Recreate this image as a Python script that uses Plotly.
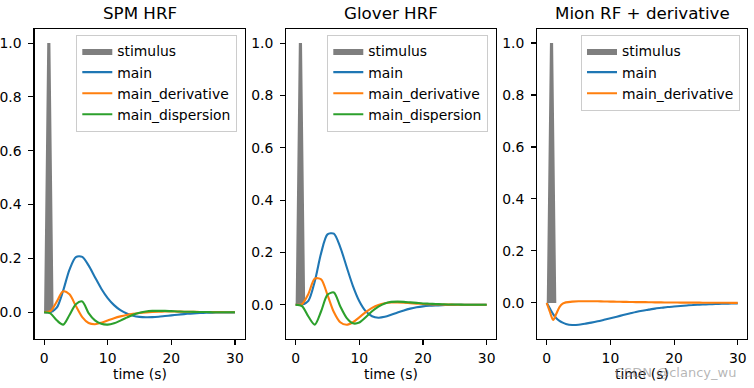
import plotly.graph_objects as go

# ---------------- data ----------------
time_s = list(range(0, 31))

stim_times = [0.0, 0.5, 1.0, 1.5, 30.0]
stim_values = [0.0, 1.0, 1.0, 0.0, 0.0]

spm_main = [0.0, 0.0002, 0.0169, 0.0802, 0.1586, 0.2050, 0.2056, 0.1741, 0.1302, 0.0875,
            0.0526, 0.0264, 0.0078, -0.0048, -0.0128, -0.0171, -0.0187, -0.0183, -0.0166, -0.0142,
            -0.0117, -0.0091, -0.0068, -0.0050, -0.0035, -0.0024, -0.0016, -0.0011, -0.0007, -0.0004,
            -0.0003]
spm_derivative = [0.0, 0.0037, 0.0396, 0.0777, 0.0666, 0.0230, -0.0180, -0.0400, -0.0445, -0.0391,
                  -0.0305, -0.0222, -0.0154, -0.0101, -0.0060, -0.0028, -0.0005, 0.0011, 0.0021, 0.0026,
                  0.0026, 0.0024, 0.0021, 0.0017, 0.0013, 0.0009, 0.0007, 0.0005, 0.0003, 0.0002,
                  0.0001]
spm_dispersion = [0.0, -0.004, -0.030, -0.046, -0.010, 0.030, 0.040, -0.003, -0.030, -0.043,
                  -0.046, -0.041, -0.031, -0.020, -0.009, -0.002, 0.003, 0.005, 0.005, 0.005,
                  0.004, 0.003, 0.002, 0.002, 0.001, 0.001, 0.0005, 0.0, 0.0, 0.0,
                  0.0]

glover_main = [0.0, 0.0001, 0.0150, 0.0892, 0.1974, 0.2690, 0.2717, 0.2204, 0.1453, 0.0716,
               0.0136, -0.0243, -0.0438, -0.0494, -0.0462, -0.0386, -0.0297, -0.0215, -0.0148, -0.0098,
               -0.0062, -0.0038, -0.0023, -0.0013, -0.0007, -0.0004, -0.0002, -0.0001, 0.0, 0.0,
               0.0]
glover_derivative = [0.0, 0.0026, 0.0414, 0.0999, 0.0973, 0.0376, -0.0280, -0.0670, -0.0767, -0.0669,
                     -0.0480, -0.0284, -0.0118, -0.0006, 0.0059, 0.0086, 0.0086, 0.0076, 0.0058, 0.0042,
                     0.0030, 0.0020, 0.0012, 0.0007, 0.0005, 0.0002, 0.0001, 0.0, 0.0, 0.0,
                     0.0]
glover_dispersion = [0.0, -0.005, -0.045, -0.076, -0.025, 0.038, 0.047, -0.006, -0.050, -0.071,
                     -0.068, -0.048, -0.025, -0.007, 0.005, 0.011, 0.012, 0.011, 0.009, 0.007,
                     0.005, 0.004, 0.003, 0.002, 0.001, 0.001, 0.0005, 0.0, 0.0, 0.0,
                     0.0]

mion_time = [0, 0.5, 1, 1.5, 2, 2.5, 3, 4, 5, 6, 7, 8, 9, 10, 11, 12, 13, 14, 15, 16, 17, 18, 19,
             20, 21, 22, 23, 24, 25, 26, 27, 28, 29, 30]
mion_main = [0.0, -0.022, -0.043, -0.059, -0.069, -0.076, -0.081, -0.085, -0.084, -0.080, -0.076,
             -0.071, -0.065, -0.059, -0.053, -0.047, -0.041, -0.035, -0.030, -0.026, -0.022, -0.019,
             -0.016, -0.014, -0.012, -0.010, -0.008, -0.007, -0.006, -0.005, -0.004, -0.003, -0.0025,
             -0.002]
mion_derivative = [0.0, -0.035, -0.066, -0.042, -0.016, -0.003, 0.002, 0.005, 0.006, 0.006, 0.006,
                   0.006, 0.0055, 0.005, 0.0045, 0.004, 0.0035, 0.003, 0.003, 0.0025, 0.002, 0.002,
                   0.0015, 0.0015, 0.001, 0.001, 0.001, 0.0008, 0.0006, 0.0005, 0.0004, 0.0003, 0.0002,
                   0.0001]

panel_titles = ["SPM HRF", "Glover HRF", "Mion RF + derivative"]
series_names = ["main", "main_derivative", "main_dispersion"]
colors = ["#1f77b4", "#ff7f0e", "#2ca02c"]
x_ticks = [0, 10, 20, 30]
y_ticks = [0.0, 0.2, 0.4, 0.6, 0.8, 1.0]

# ---------------- layout geometry (window pixels) ----------------
W, H = 754, 388
x_px = [(34.5, 244.5), (286.1, 496.2), (537.2, 747.3)]
y_top, y_bot = 29, 339
y_ranges = [(-0.0994, 1.0524), (-0.1309, 1.0539), (-0.139, 1.054)]
legend_right_px = [237.3, 488.3, 740.0]
legend_top_px = 34.5

FONT = "DejaVu Sans"
FS = 13.9


def px(xw):
    return xw / W


def py(yw):
    return (H - yw) / H


panels = [
    (time_s, [spm_main, spm_derivative, spm_dispersion]),
    (time_s, [glover_main, glover_derivative, glover_dispersion]),
    (mion_time, [mion_main, mion_derivative]),
]

fig = go.Figure()
for i, (tt, series) in enumerate(panels):
    ax = "" if i == 0 else str(i + 1)
    leg = "legend" if i == 0 else f"legend{i + 1}"
    fig.add_trace(go.Scatter(
        x=stim_times, y=stim_values, fill="toself", mode="lines",
        fillcolor="rgba(0,0,0,0.5)", line=dict(width=0, color="rgba(0,0,0,0.5)"),
        name="stimulus", xaxis="x" + ax, yaxis="y" + ax, legend=leg))
    for j, vals in enumerate(series):
        fig.add_trace(go.Scatter(
            x=tt, y=vals, mode="lines", name=series_names[j],
            line=dict(color=colors[j], width=2.1, shape="spline", smoothing=0.8),
            xaxis="x" + ax, yaxis="y" + ax, legend=leg))

layout = dict(
    template="none",
    width=W, height=H, margin=dict(l=0, r=0, t=0, b=0, autoexpand=False),
    paper_bgcolor="white", plot_bgcolor="white",
    font=dict(family=FONT, size=FS, color="black"),
    showlegend=True, annotations=[],
)
axis_common = dict(showline=True, mirror=True, linecolor="black", linewidth=1.1,
                   ticks="outside", ticklen=5, tickwidth=1.1, tickcolor="black",
                   showgrid=False, zeroline=False, fixedrange=True, automargin=False,
                   tickfont=dict(family=FONT, size=FS, color="black"))
for i in range(3):
    ax = "" if i == 0 else str(i + 1)
    x0, x1 = x_px[i]
    layout["xaxis" + ax] = dict(axis_common, domain=[px(x0), px(x1)], range=[-1.5, 31.5],
                                tickvals=x_ticks, anchor="y" + ax, ticklabelstandoff=1)
    layout["yaxis" + ax] = dict(axis_common, domain=[py(y_bot), py(y_top)],
                                range=list(y_ranges[i]), tickvals=y_ticks, tickformat=".1f",
                                anchor="x" + ax, ticklabelstandoff=4)
    leg = "legend" if i == 0 else f"legend{i + 1}"
    layout[leg] = dict(x=px(legend_right_px[i]), xanchor="right",
                       y=py(legend_top_px), yanchor="top",
                       bgcolor="rgba(255,255,255,0.8)", bordercolor="#cccccc", borderwidth=1,
                       font=dict(family=FONT, size=FS, color="black"),
                       traceorder="normal", itemwidth=30)
    cx = px((x0 + x1) / 2)
    layout["annotations"].append(dict(text=panel_titles[i], x=cx, y=py(13.5),
                                      xref="paper", yref="paper", xanchor="center",
                                      yanchor="middle", showarrow=False,
                                      font=dict(family=FONT, size=16.7, color="black")))
    layout["annotations"].append(dict(text="time (s)", x=cx, y=py(373.5),
                                      xref="paper", yref="paper", xanchor="center",
                                      yanchor="middle", showarrow=False,
                                      font=dict(family=FONT, size=FS, color="black")))

layout["annotations"].append(dict(text="CSDN @clancy_wu", x=px(738), y=py(372),
                                  xref="paper", yref="paper", xanchor="right",
                                  yanchor="middle", showarrow=False,
                                  font=dict(family=FONT, size=13, color="rgba(150,150,150,0.7)")))

fig.update_layout(**layout)
fig.write_html("out.html", config={"displayModeBar": False, "staticPlot": True},
               post_script="document.body.style.margin='0';document.body.style.overflow='hidden';")
